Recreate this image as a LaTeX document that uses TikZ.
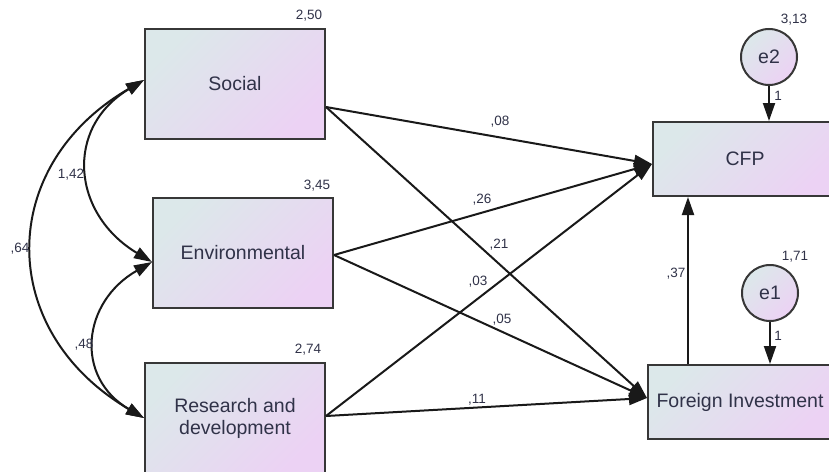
\documentclass[tikz,border=0pt]{standalone}
\usepackage{fontspec}
\setmainfont{Liberation Sans}
\usetikzlibrary{arrows.meta}
\definecolor{fillA}{RGB}{220,232,234}
\definecolor{fillB}{RGB}{236,210,244}
\definecolor{txt}{RGB}{48,50,72}
\definecolor{edge}{RGB}{55,55,55}
\tikzset{
  varbox/.style={draw=edge, line width=2pt, left color=fillA, right color=fillB, shading angle=45,
    minimum width=180pt, minimum height=110pt, inner sep=0pt, align=center,
    text=txt, font=\fontsize{19.5}{22}\selectfont},
  errc/.style={circle, draw=edge, line width=2pt, left color=fillA, right color=fillB, shading angle=45,
    minimum size=56pt, inner sep=0pt, text=txt, font=\fontsize{19.5}{22}\selectfont},
  num/.style={text=txt, font=\fontsize{13.5}{15}\selectfont, inner sep=0pt},
  path/.style={line width=2pt, black!90, -{Triangle[length=18pt,width=12pt]}},
  cov/.style={line width=2pt, black!90, {Triangle[length=18pt,width=12pt]}-{Triangle[length=18pt,width=12pt]}},
}
\begin{document}
\begin{tikzpicture}[x=1pt,y=-1pt]
\useasboundingbox (0,0) rectangle (829,471);
\clip (0,0) rectangle (829,471);
% boxes
\node[varbox] (social) at (235,84) {Social};
\node[varbox] (env) at (243,253) {Environmental};
\node[varbox] (rd) at (235,418) {Research and\\development};
\node[varbox, minimum width=184pt, minimum height=74pt] (cfp) at (745,159) {CFP};
\node[varbox, minimum width=184pt, minimum height=74pt] (fi) at (740,402) {Foreign Investment};
\node[errc] (e2) at (769,57) {e2};
\node[errc] (e1) at (770,293) {e1};
% anchor points
\coordinate (sOut) at ([yshift=-23pt]social.east);
\coordinate (eOut) at ([yshift=-2pt]env.east);
\coordinate (rOut) at ([yshift=2pt]rd.east);
\coordinate (cIn) at ([yshift=-5pt]cfp.west);
\coordinate (fIn) at ([yshift=4pt]fi.west);
\coordinate (sCov) at ([yshift=4pt]social.west);
\coordinate (eCov) at ([yshift=-9pt]env.west);
\coordinate (rCov) at (rd.west);
\coordinate (fiUp) at ([xshift=-52pt]fi.north);
% regression paths
\draw[path] (sOut) -- (cIn);
\draw[path] (eOut) -- (cIn);
\draw[path] (rOut) -- (cIn);
\draw[path] (sOut) -- (fIn);
\draw[path] (eOut) -- (fIn);
\draw[path] (rOut) -- (fIn);
\draw[path] (fiUp) -- (fiUp |- cfp.south);
\draw[path] (e2.south) -- (e2.south |- cfp.north);
\draw[path] (e1.south) -- (e1.south |- fi.north);
% covariances
\draw[cov] (sCov) .. controls (64,128) and (72,214) .. (eCov);
\draw[cov] (sCov) .. controls (-4,166) and (-4,331) .. (rCov);
\draw[cov] (eCov) .. controls (82,302) and (74,377) .. (rCov);
% labels
\node[num] (l250) at (309,16) {2,50};
\node[num] (l345) at (317,186) {3,45};
\node[num] (l274) at (308,350) {2,74};
\node[num] (l313) at (794,20) {3,13};
\node[num] (l171) at (795,257) {1,71};
\node[num] (l1a) at (778,96) {1};
\node[num] (l1b) at (778,336) {1};
\node[num] (l08) at (500,122) {,08};
\node[num] (l26) at (482,200) {,26};
\node[num] (l21) at (499,245) {,21};
\node[num] (l03) at (478,282) {,03};
\node[num] (l05) at (502,320) {,05};
\node[num] (l11) at (477,400) {,11};
\node[num] (l37) at (676,274) {,37};
\node[num] (l142) at (71,175) {1,42};
\node[num] (l64) at (20,249) {,64};
\node[num] (l48) at (84,345) {,48};
\end{tikzpicture}
\end{document}
